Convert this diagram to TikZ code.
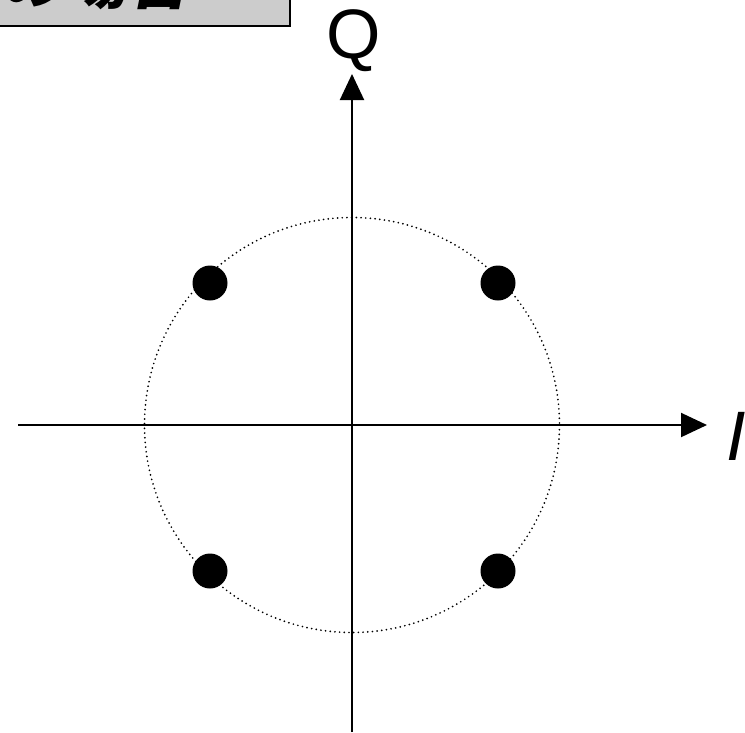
\documentclass[tikz,border=0pt]{standalone}
\usepackage{fontspec}
\setmainfont{Liberation Sans}
\newfontfamily\jp[FakeSlant=0.2]{Noto Sans CJK JP}
\usetikzlibrary{arrows.meta}
\begin{document}
\begin{tikzpicture}[x=1pt,y=-1pt,
  axis/.style={line width=2pt,-{Triangle[length=26pt,width=24pt]}},
  ring/.style={line width=1.9pt,dash pattern=on 0pt off 4.7pt,line cap=round},
  symb/.style={circle,fill=black,minimum size=35pt,inner sep=0pt},
  lbl/.style={font=\fontsize{70}{70}\selectfont,inner sep=0pt},
  tag/.style={draw=black,line width=2pt,fill=black!20}]
\useasboundingbox (0,0) rectangle (745,732);
\clip (0,0) rectangle (745,732);
\coordinate (O) at (352,425);
\coordinate (L) at (18,425);
\coordinate (R) at (707,425);
\coordinate (B) at (352,732);
\coordinate (T) at (352,74);
% title box
\draw[tag] (-20,-80) rectangle (290,26);
\node[anchor=base east,inner sep=0pt,font=\jp\bfseries\fontsize{64}{64}\selectfont] (title) at (192,3) {QPSKの場合};
% circle
\draw[ring] (O) circle[radius=207.5];
% axes
\draw[axis] (L) -- (R);
\draw[axis] (B) -- (T);
\node[lbl,anchor=base] (q) at (354,58) {Q};
\node[lbl,anchor=base west] (i) at (726,460) {\itshape I};
% symbols
\node[symb] (s1) at (498,283) {};
\node[symb] (s2) at (210,283) {};
\node[symb] (s3) at (210,571) {};
\node[symb] (s4) at (498,571) {};
\end{tikzpicture}
\end{document}
